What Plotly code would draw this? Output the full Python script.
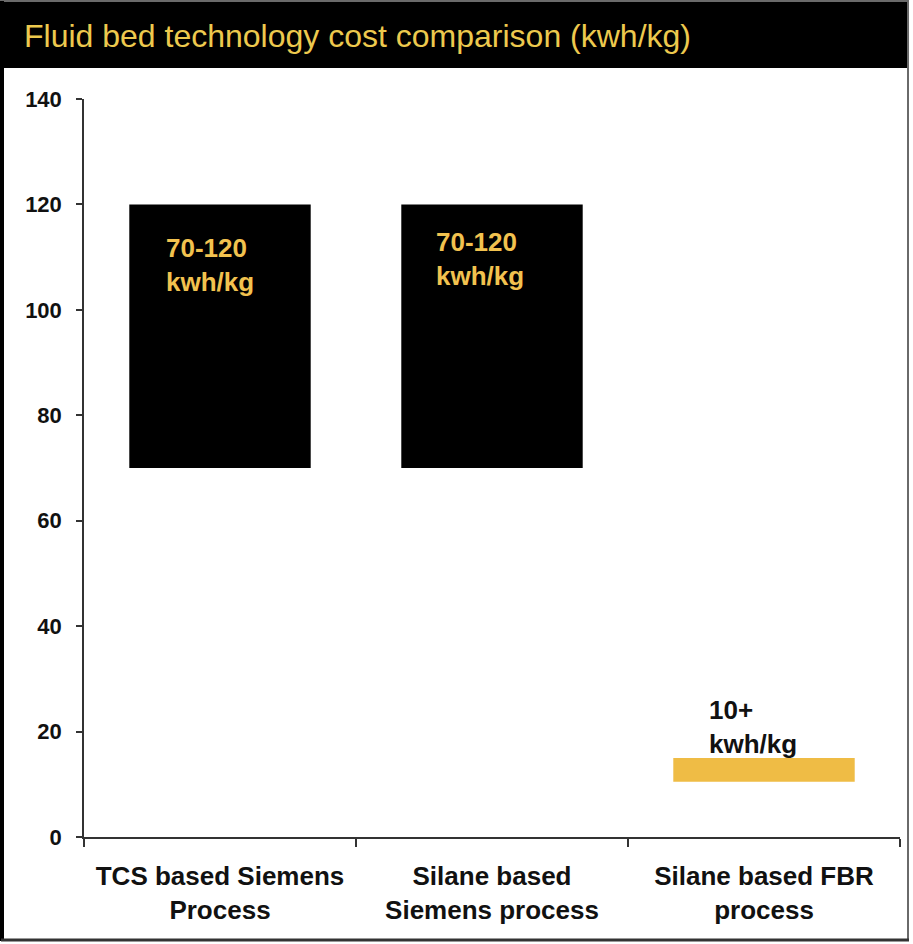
import plotly.graph_objects as go

# Energy use per process, kWh/kg (low and high end of each range)
categories = ["TCS based Siemens<br>Process", "Silane based<br>Siemens process", "Silane based FBR<br>process"]
low_values = [70, 70, 10.5]
high_values = [120, 120, 15]
range_labels = ["70-120<br>kwh/kg", "70-120<br>kwh/kg", "10+<br>kwh/kg"]
bar_colors = ["#000000", "#000000", "#EFBC45"]
label_colors = ["#F2C24F", "#F2C24F", "#111111"]
y_ticks = [0, 20, 40, 60, 80, 100, 120, 140]

W, H = 913, 944
L, R, T, B = 84, 13, 99, 107
PW, PH = W - L - R, H - T - B


def px(x):
    return (x - L) / PW


def py(y):
    return (H - B - y) / PH


fig = go.Figure()
fig.add_trace(go.Bar(
    x=categories,
    y=[h - l for h, l in zip(high_values, low_values)],
    base=low_values,
    marker=dict(color=bar_colors, line=dict(width=0)),
    width=0.667,
    hoverinfo="skip",
))

# range labels placed inside / above each bar
label_y = [high_values[0] - 11.5, high_values[1] - 10.3, high_values[2] + 5.8]
label_dx = [-10, -12, -11]
for cat, txt, col, yy, dx in zip(categories, range_labels, label_colors, label_y, label_dx):
    fig.add_annotation(
        x=cat, y=yy, text="<b>" + txt + "</b>", showarrow=False,
        xshift=dx, align="left",
        font=dict(family="Liberation Sans, Arial", size=26, color=col),
    )

shapes = [
    # outer frame
    dict(type="rect", xref="paper", yref="paper",
         x0=px(1), x1=px(908), y0=py(1), y1=py(940),
         line=dict(color="#6a6a6a", width=2), fillcolor="rgba(0,0,0,0)", layer="below"),
    dict(type="line", xref="paper", yref="paper",
         x0=px(2), x1=px(2), y0=py(1), y1=py(941),
         line=dict(color="#000000", width=4)),
    dict(type="line", xref="paper", yref="paper",
         x0=px(1), x1=px(909), y0=py(940), y1=py(940),
         line=dict(color="#333333", width=3)),
    # title band
    dict(type="rect", xref="paper", yref="paper",
         x0=px(0), x1=px(907), y0=py(2), y1=py(68),
         line=dict(width=0), fillcolor="#000000", layer="below"),
]
fig.update_layout(shapes=shapes)

fig.add_annotation(
    xref="paper", yref="paper", x=px(22), y=py(36),
    xanchor="left", yanchor="middle", showarrow=False,
    text="Fluid bed technology cost comparison (kwh/kg)",
    font=dict(family="Liberation Sans, Arial", size=32, color="#EDC94E"),
)

fig.update_layout(
    width=W, height=H,
    margin=dict(l=L, r=R, t=T, b=B, pad=0),
    paper_bgcolor="white", plot_bgcolor="white",
    showlegend=False,
    font=dict(family="Liberation Sans, Arial", color="#111111"),
    xaxis=dict(
        type="category", range=[-0.5, 2.5],
        tickson="boundaries", ticks="outside", ticklen=8, tickwidth=1.5, tickcolor="#333333",
        showline=True, linecolor="#333333", linewidth=1.5,
        showgrid=False, zeroline=False, ticklabelstandoff=15,
        tickfont=dict(family="Liberation Sans, Arial", size=26, color="#111111"),
        tickvals=categories,
        ticktext=["<b>" + c + "</b>" for c in categories],
    ),
    yaxis=dict(
        range=[0, 140], tickvals=y_ticks,
        ticktext=["<b>%d</b>" % v for v in y_ticks],
        ticks="outside", ticklen=6, tickwidth=1.5, tickcolor="#333333",
        showline=True, linecolor="#333333", linewidth=1.5,
        showgrid=False, zeroline=False, ticklabelstandoff=10,
        tickfont=dict(family="Liberation Sans, Arial", size=22, color="#111111"),
    ),
)

fig.write_html("out.html")
